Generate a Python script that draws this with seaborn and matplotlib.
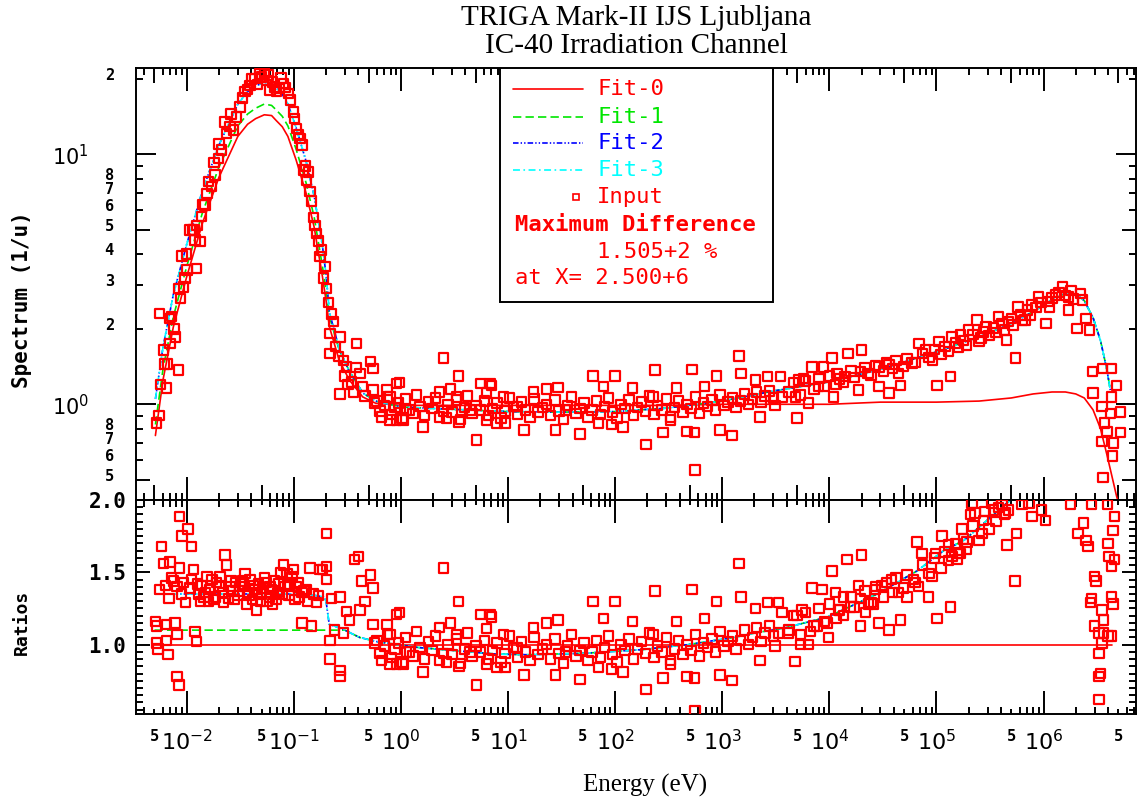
import numpy as np
import matplotlib
matplotlib.use("Agg")
import matplotlib.pyplot as plt
import matplotlib.ticker as mticker
import matplotlib.transforms as mtrans
from matplotlib.patches import Rectangle
import seaborn as sns

# ---------------- fitted curves, upper panel (1/u) ----------------
e_fit = [5.1e-3, 6e-3, 7.5e-3, 1e-2, 1.4e-2, 2e-2, 3e-2, 3.7e-2, 4.4e-2, 5.3e-2,
         6.2e-2, 6.8e-2, 7.8e-2, 8.8e-2, 0.105, 0.13, 0.155, 0.185, 0.2, 0.215,
         0.265, 0.33, 0.44, 0.58, 1, 3, 10, 30, 100, 300,
         1e3, 3e3, 1e4, 3e4, 1e5, 2.5e5, 5e5, 8e5, 1.2e6, 1.6e6,
         2.0e6, 2.4e6, 2.9e6, 3.4e6, 3.9e6, 4.2e6]
e_fit0 = e_fit + [4.8e6, 5.4e6]
s_fit0 = [0.75, 1.25, 2.04, 3.24, 5.3, 8.1, 11.8, 13.2, 13.9, 14.4,
          14.3, 13.7, 12.9, 11.8, 9.5, 7.0, 5.1, 3.24, 2.6, 2.04,
          1.5, 1.25, 1.07, 1.01, 0.99, 0.99, 0.99, 0.99, 0.99, 0.99,
          1.0, 1.0, 1.0, 1.02, 1.02, 1.03, 1.06, 1.1, 1.12, 1.12,
          1.1, 1.06, 0.95, 0.8, 0.63, 0.55, 0.43, 0.36]
s_fit1 = [0.83, 1.38, 2.24, 3.56, 5.83, 8.9, 13.0, 14.5, 15.3, 15.9,
          15.7, 15.1, 14.2, 13.0, 10.5, 7.7, 5.6, 3.56, 2.86, 2.24,
          1.65, 1.36, 1.11, 1.03, 0.975, 0.955, 0.935, 0.93, 0.935, 0.965,
          1.03, 1.13, 1.23, 1.38, 1.62, 1.86, 2.1, 2.35, 2.62, 2.78,
          2.76, 2.6, 2.22, 1.8, 1.38, 1.14]
s_fit2 = [1.05, 1.69, 2.75, 4.37, 7.15, 10.9, 15.9, 17.8, 18.8, 19.4,
          19.3, 18.5, 17.4, 15.9, 12.8, 9.4, 6.8, 4.3, 3.3, 2.33,
          1.67, 1.35, 1.11, 1.03, 0.975, 0.955, 0.935, 0.93, 0.935, 0.965,
          1.03, 1.13, 1.23, 1.38, 1.62, 1.86, 2.1, 2.35, 2.62, 2.78,
          2.76, 2.6, 2.22, 1.8, 1.38, 1.14]
s_fit3 = [1.05, 1.69, 2.75, 4.37, 7.15, 10.9, 15.9, 17.8, 18.8, 19.4,
          19.3, 18.5, 17.4, 15.9, 12.8, 9.4, 6.8, 4.3, 3.3, 2.33,
          1.67, 1.35, 1.11, 1.03, 0.975, 0.955, 0.935, 0.93, 0.935, 0.965,
          1.03, 1.13, 1.23, 1.38, 1.62, 1.86, 2.1, 2.35, 2.62, 2.78,
          2.76, 2.6, 2.22, 1.8, 1.38, 1.14]

# ---------------- fitted curves, lower panel (ratios) ----------------
e_rfit0 = [5.0e-3, 4.4e6]
r_fit0 = [1.0, 1.0]
e_rfit1 = [5.0e-3, 0.30, 0.41, 0.6, 1.45, 7.6, 15, 52, 177, 480, 1300, 2000, 3800,
           9600, 2.8e4, 6.6e4, 1.17e5, 1.8e5, 3.2e5, 4.9e5, 6e5]
r_fit1 = [1.10, 1.10, 1.05, 1.02, 0.98, 0.935, 0.93, 0.94, 0.965, 1.0, 1.05, 1.08, 1.115,
          1.19, 1.35, 1.51, 1.65, 1.72, 1.88, 2.0, 2.1]
e_rfit = [5.0e-3, 0.13, 0.19, 0.2, 0.214, 0.28, 0.41, 0.6, 1.45, 7.6, 15, 52, 177, 480,
          1300, 2000, 3800, 9600, 2.8e4, 6.6e4, 1.17e5, 1.8e5, 3.2e5, 4.9e5, 6e5]
r_fit2 = [1.35, 1.35, 1.33, 1.30, 1.14, 1.11, 1.05, 1.02, 0.98, 0.935, 0.93, 0.94, 0.965, 1.0,
          1.05, 1.08, 1.115, 1.19, 1.35, 1.51, 1.65, 1.72, 1.88, 2.0, 2.1]
r_fit3 = [1.35, 1.35, 1.33, 1.30, 1.14, 1.11, 1.05, 1.02, 0.98, 0.935, 0.93, 0.94, 0.965, 1.0,
          1.05, 1.08, 1.115, 1.19, 1.35, 1.51, 1.65, 1.72, 1.88, 2.0, 2.1]

# ---------------- input points, thermal range ----------------
e_th = [5.25e-3, 5.5e-3, 5.6e-3, 7.2e-3, 6.9e-3, 6.05e-3, 6.6e-3, 6.5e-3, 8.35e-3, 7.9e-3,
        8.5e-3, 9.3e-3, 9.0e-3, 1.01e-2, 1.24e-2, 1.07e-2, 1.13e-2, 1.17e-2, 1.19e-2, 1.33e-2,
        1.38e-2, 1.48e-2, 1.54e-2, 1.71e-2, 1.84e-2, 1.97e-2, 2.12e-2, 2.36e-2, 2.28e-2, 2.54e-2,
        2.72e-2, 2.93e-2, 3.15e-2, 3.5e-2, 3.9e-2, 4.35e-2, 5.0e-2, 5.6e-2, 6.0e-2, 6.9e-2,
        8.0e-2, 8.9e-2, 9.9e-2, 0.106, 0.114, 0.119, 0.123, 0.137, 0.142, 0.152,
        0.163, 0.182, 0.195, 0.203, 0.234, 0.218, 0.27, 0.386, 0.218, 0.29,
        0.31, 0.415, 0.345, 0.27,
        4.0e-2, 4.6e-2, 4.8e-2, 5.3e-2, 5.8e-2, 6.3e-2, 6.6e-2, 7.3e-2, 7.6e-2, 8.4e-2,
        9.3e-2, 3.3e-2, 3.7e-2, 2.6e-2, 2.0e-2, 1.8e-2, 1.6e-2, 1.25e-2, 1.42e-2, 1.0e-2,
        9.6e-3, 8.8e-3, 7.6e-3, 7.0e-3, 6.2e-3, 5.7e-3, 0.102, 0.11, 0.128, 0.132,
        0.147, 0.158, 0.17, 0.176, 0.19, 0.21, 0.225, 0.245, 0.26, 0.3,
        0.32, 0.36, 0.38, 0.44, 0.46]
s_th = [0.84, 0.90, 2.31, 2.24, 2.2, 1.65, 1.45, 1.16, 1.37, 1.86,
        2.91, 2.95, 3.92, 3.44, 3.5, 4.98, 4.98, 4.98, 4.54, 4.47,
        5.63, 6.27, 6.98, 7.43, 8.26, 9.64, 10.4, 12.1, 13.5, 12.9,
        12.5, 14.1, 15.5, 17.8, 18.9, 20.1, 20.4, 19.8, 18.1, 17.8,
        19.2, 17.5, 14.8, 12.7, 11.6, 10.9, 8.66, 8.5, 7.1, 5.6,
        4.83, 4.14, 3.55, 2.91, 2.14, 1.92, 1.86, 1.75, 1.6, 1.5,
        1.41, 1.33, 1.23, 1.10,
        20.0, 19.0, 21.0, 21.2, 20.8, 19.5, 18.6, 18.3, 20.2, 18.5,
        16.5, 16.8, 18.2, 14.5, 11.0, 9.3, 7.8, 5.2, 6.3, 4.0,
        3.2, 2.65, 2.0, 1.75, 1.45, 1.2, 13.9, 12.0, 9.0, 7.9,
        6.5, 5.2, 4.5, 3.9, 3.2, 2.55, 2.3, 1.7, 1.55, 1.3,
        1.2, 1.12, 1.4, 1.18, 1.08]
e_thr = [5.1e-3, 5.2e-3, 5.2e-3, 5.4e-3, 5.8e-3, 6.05e-3, 6.3e-3, 6.5e-3, 6.5e-3, 6.7e-3,
         7.0e-3, 7.2e-3, 7.8e-3, 8.1e-3, 8.1e-3, 8.1e-3, 8.5e-3, 8.6e-3, 8.6e-3, 9.0e-3,
         9.3e-3, 1.03e-2, 1.11e-2, 1.11e-2, 1.15e-2, 1.2e-2, 1.24e-2, 1.3e-2, 1.38e-2, 1.45e-2,
         1.54e-2, 1.6e-2, 1.65e-2, 1.77e-2, 1.9e-2, 2.05e-2, 2.15e-2, 2.28e-2, 2.36e-2, 2.45e-2,
         2.54e-2, 2.7e-2, 2.85e-2, 3.0e-2, 3.15e-2, 3.3e-2, 3.5e-2, 3.7e-2, 3.9e-2, 4.1e-2,
         4.35e-2, 4.5e-2, 4.7e-2, 5.0e-2, 5.3e-2, 5.6e-2, 6.0e-2, 6.3e-2, 6.6e-2, 7.0e-2,
         7.5e-2, 8.0e-2, 8.6e-2, 9.2e-2, 9.9e-2, 0.106, 0.112, 0.119, 0.119, 0.13,
         0.142, 0.146, 0.152, 0.163, 0.17, 0.175, 0.185, 0.203, 0.203, 0.203,
         0.218, 0.218, 0.226, 0.24, 0.27, 0.27, 0.27, 0.29, 0.31, 0.33,
         0.37, 0.40, 0.415, 0.43, 0.46,
         5.6e-3, 6.8e-3, 7.5e-3, 8.9e-3, 9.7e-3, 1.07e-2, 1.26e-2, 1.34e-2, 1.5e-2, 1.72e-2,
         1.85e-2, 2.0e-2, 2.2e-2, 2.6e-2, 2.8e-2, 3.1e-2, 3.4e-2, 3.6e-2, 3.8e-2, 4.2e-2,
         4.6e-2, 4.9e-2, 5.2e-2, 5.5e-2, 5.9e-2, 6.2e-2, 6.8e-2, 7.2e-2, 7.8e-2, 8.3e-2,
         9.0e-2, 9.6e-2, 0.103, 0.109, 0.125, 0.135]
r_thr = [1.16, 1.13, 1.01, 0.97, 1.68, 1.56, 1.41, 1.14, 1.03, 0.93,
         1.57, 1.46, 1.15, 1.40, 1.07, 0.78, 0.72, 1.885, 1.53, 1.75,
         1.43, 1.80, 1.68, 1.45, 1.52, 1.09, 1.02, 1.35, 1.41, 1.33,
         1.47, 1.30, 1.38, 1.31, 1.43, 1.47, 1.36, 1.62, 1.55, 1.32,
         1.40, 1.37, 1.43, 1.34, 1.40, 1.44, 1.49, 1.36, 1.45, 1.31,
         1.38, 1.24, 1.42, 1.35, 1.46, 1.30, 1.40, 1.28, 1.44, 1.36,
         1.50, 1.55, 1.49, 1.42, 1.52, 1.40, 1.33, 1.36, 1.15, 1.38,
         1.53, 1.13, 1.35, 1.29, 1.34, 1.52, 1.52, 1.54, 1.45, 1.77,
         1.03, 0.90, 1.32, 1.10, 1.33, 0.82, 0.78, 1.08, 1.23, 1.17,
         1.59, 1.61, 1.24, 1.44, 1.30,
         1.38, 1.32, 1.44, 1.35, 1.29, 1.39, 1.42, 1.30, 1.36, 1.45,
         1.33, 1.40, 1.29, 1.44, 1.31, 1.37, 1.42, 1.28, 1.34, 1.41,
         1.36, 1.30, 1.39, 1.43, 1.33, 1.38, 1.31, 1.42, 1.35, 1.40,
         1.34, 1.47, 1.31, 1.43, 1.37, 1.30]

# ---------------- input points, epithermal range ----------------
# Fit-0 sits at 1.00 here, so the ratio panel reads the same values
e_epi = [0.52, 0.55, 0.55, 0.57, 0.66, 0.74, 0.79, 0.79, 0.91, 0.91,
         0.97, 1.05, 1.13, 1.6, 2.3, 2.49, 2.65, 2.9, 3.3, 3.45,
         3.5, 4.4, 5.1, 5.5, 6.3, 6.3, 6.8, 7.0, 7.9, 9.1,
         9.4, 12.1, 14.1, 17.2, 23, 27.7, 29.4, 34.4, 47, 62,
         70, 78, 93, 100, 118, 145, 195, 225, 235, 280,
         330, 375, 470, 520, 550, 557, 680, 880, 950, 1230,
         1430, 1500, 2050, 2260, 2650, 3100,
         0.6, 0.64, 0.7, 0.75, 0.82, 0.88, 0.95, 1.02, 1.1, 1.2,
         1.3, 1.4, 1.5, 1.65, 1.8, 1.95, 2.1, 2.3, 2.5, 2.75,
         3.0, 3.3, 3.6, 3.9, 4.2, 4.6, 5.0, 5.5, 6.0, 6.6,
         7.2, 7.9, 8.6, 9.4, 10.3, 11.2, 12.3, 13.4, 14.6, 16,
         17.5, 19, 21, 23, 25, 27.5, 30, 33, 36, 39,
         43, 47, 51, 56, 61, 67, 73, 80, 87, 95,
         104, 113, 124, 135, 148, 161, 176, 192, 210, 230,
         250, 275, 300, 330, 360, 390, 430, 470, 510, 560,
         610, 670, 730, 800, 870, 950, 1040, 1130, 1240, 1350,
         1480, 1610, 1760, 1920, 2100, 2300, 2500, 2750, 3000]
s_epi = [1.48, 1.39, 1.14, 1.01, 0.89, 1.14, 1.07, 0.865, 1.21, 0.865,
         1.22, 0.865, 0.95, 0.81, 1.12, 1.53, 0.88, 1.15, 1.07, 1.30,
         0.85, 0.95, 0.72, 1.21, 1.11, 0.865, 1.21, 1.19, 0.84, 1.07,
         0.84, 0.98, 0.79, 1.12, 1.15, 0.79, 1.17, 0.95, 0.76, 1.30,
         0.84, 1.18, 0.83, 1.30, 0.81, 1.16, 0.69, 1.07, 1.37, 0.77,
         0.865, 1.16, 0.78, 1.38, 0.77, 0.545, 1.18, 1.30, 0.79, 0.75,
         1.56, 1.33, 1.25, 0.89, 1.29, 0.99,
         1.03, 0.94, 0.99, 1.07, 0.91, 0.97, 1.01, 0.88, 1.05, 0.95,
         0.92, 1.09, 0.98, 0.90, 1.02, 0.96, 1.06, 0.89, 0.94, 1.00,
         0.93, 1.04, 0.87, 0.97, 1.08, 0.92, 0.99, 0.95, 1.03, 0.90,
         0.96, 1.01, 0.88, 0.94, 1.06, 0.98, 0.91, 1.02, 0.95, 0.89,
         1.05, 0.93, 0.97, 1.00, 0.90, 1.04, 0.94, 0.87, 0.99, 1.07,
         0.92, 0.96, 1.01, 0.89, 0.95, 1.03, 0.91, 0.98, 1.06, 0.93,
         0.88, 1.00, 0.96, 1.04, 0.90, 0.97, 1.02, 0.94, 1.08, 0.91,
         0.99, 0.95, 1.05, 0.89, 0.97, 1.03, 0.93, 1.00, 0.96, 1.07,
         0.92, 1.01, 0.98, 1.04, 0.95, 1.09, 0.99, 1.02, 1.06, 0.97,
         1.03, 1.10, 1.00, 1.05, 1.12, 1.02, 1.08, 1.13, 1.06]

# ---------------- input points, fast range ----------------
e_fast = [3490, 3600, 4820, 5000, 5200, 5770, 6400, 6900, 8850, 7950,
          1.06e4, 1.1e4, 1.18e4, 1.4e4, 1.5e4, 2.0e4, 1.87e4, 2.3e4, 2.9e4, 2.9e4,
          3.6e4, 3.6e4, 4.4e4, 4.6e4, 5.9e4, 6.9e4, 7.9e4, 9.2e4, 1.01e5, 1.06e5,
          1.35e5, 1.4e5, 1.67e5, 2.0e5, 2.4e5, 2.6e5, 2.9e5, 3.8e5, 4.5e5, 4.7e5,
          5.5e5, 5.8e5, 6.7e5, 7.8e5, 9.0e5, 1.05e6, 1.13e6, 1.3e6, 1.5e6, 1.72e6,
          1.72e6, 2.2e6, 2.3e6, 2.05e6, 2.5e6, 2.7e6, 2.85e6, 3.55e6, 4.3e6, 4.8e6,
          2.9e6, 4.3e6, 3.5e6, 4.2e6, 5.2e6, 3.7e6, 3.9e6, 5.2e6, 3.5e6, 4.5e6,
          4.4e6, 3.6e6,
          4.2e3, 4.6e3, 5.4e3, 6.0e3, 7.2e3, 8.0e3, 9.0e3, 1.0e4, 1.15e4, 1.25e4,
          1.35e4, 1.6e4, 1.7e4, 1.95e4, 2.15e4, 2.45e4, 2.7e4, 3.2e4, 3.4e4, 3.9e4,
          4.2e4, 4.9e4, 5.3e4, 6.3e4, 7.4e4, 8.5e4, 9.6e4, 1.1e5, 1.2e5, 1.3e5,
          1.5e5, 1.6e5, 1.8e5, 1.9e5, 2.2e5, 2.5e5, 2.75e5, 3.1e5, 3.4e5, 3.6e5,
          4.1e5, 4.3e5, 5.0e5, 5.2e5, 6.1e5, 6.4e5, 7.1e5, 7.5e5, 8.5e5, 9.5e5,
          1.1e6, 1.2e6, 1.4e6, 1.6e6, 1.8e6, 1.9e6]
s_fast = [1.29, 1.07, 1.07, 0.88, 1.25, 1.27, 1.01, 1.41, 1.41, 1.18,
          1.53, 1.07, 1.33, 1.29, 1.60, 1.65, 1.14, 1.33, 1.41, 1.18,
          1.11, 1.44, 1.33, 1.19, 1.46, 1.75, 1.65, 1.50, 1.19, 1.78,
          1.29, 1.86, 1.89, 1.98, 2.17, 1.84, 2.04, 2.24, 1.81, 2.14,
          1.53, 2.45, 2.17, 2.5, 2.69, 2.11, 2.45, 2.74, 2.95, 2.69,
          2.38, 2.78, 2.61, 2.01, 2.21, 1.98, 1.35, 1.39, 1.39, 1.19,
          1.11, 1.07, 0.98, 0.92, 0.93, 0.84, 0.78, 0.77, 0.71, 0.70,
          0.62, 0.51,
          1.12, 1.22, 1.09, 1.24, 1.15, 1.27, 1.18, 1.30, 1.20, 1.26,
          1.22, 1.36, 1.28, 1.35, 1.40, 1.31, 1.43, 1.36, 1.46, 1.39,
          1.50, 1.42, 1.52, 1.47, 1.60, 1.54, 1.66, 1.58, 1.70, 1.63,
          1.76, 1.69, 1.80, 1.72, 1.90, 1.79, 1.95, 1.88, 2.02, 1.94,
          2.10, 1.98, 2.20, 2.08, 2.28, 2.16, 2.38, 2.26, 2.44, 2.55,
          2.58, 2.66, 2.80, 2.72, 2.86, 2.64]
e_fastr = [3360, 3600, 3360, 4170, 4800, 5000, 5550, 6650, 5360, 6400,
           6900, 8530, 7660, 9500, 9850, 1.06e4, 1.14e4, 1.36e4, 1.22e4, 1.46e4,
           2.0e4, 1.88e4, 1.57e4, 1.95e4, 2.33e4, 2.17e4, 2.69e4, 2.6e4, 2.9e4, 3.6e4,
           3.1e4, 3.8e4, 4.4e4, 4.6e4, 5.3e4, 6.1e4, 6.8e4, 8.4e4, 9.1e4, 1.01e5,
           1.35e5, 6.6e4, 7.3e4, 9.8e4, 1.13e5, 1.3e5, 1.4e5, 1.67e5, 1.55e5, 1.73e5,
           2.07e5, 1.93e5, 2.15e5, 2.3e5, 2.66e5, 2.85e5, 3.3e5, 3.8e5, 4.4e5, 4.7e5,
           4.55e5, 5.6e5, 5.4e5, 6.3e5, 7.3e5, 7.8e5, 9.6e5, 1.04e6, 1.79e6, 2.8e6,
           3.94e6, 2.1e6, 2.35e6, 2.5e6, 2.6e6, 3.0e6, 3.1e6, 2.8e6, 2.76e6, 3.5e6,
           3.65e6, 3.0e6, 3.3e6, 3.65e6, 4.0e6, 4.3e6, 3.5e6, 3.3e6, 3.4e6, 3.3e6,
           3.3e6, 4.3e6, 4.45e6, 4.0e6, 4.1e6, 4.6e6, 4.3e6, 4.45e6, 4.6e6,
           4.2e3, 4.6e3, 5.4e3, 6.0e3, 7.2e3, 8.0e3, 9.0e3, 1.0e4, 1.15e4, 1.25e4,
           1.35e4, 1.6e4, 1.7e4, 1.95e4, 2.15e4, 2.45e4, 2.7e4, 3.2e4, 3.4e4, 3.9e4,
           4.2e4, 4.9e4, 5.3e4, 6.3e4, 7.4e4, 8.5e4, 9.6e4, 1.1e5, 1.2e5, 1.3e5,
           1.5e5, 1.6e5, 1.8e5, 1.9e5, 2.2e5, 2.5e5, 2.75e5, 3.1e5, 3.4e5, 3.6e5,
           4.1e5, 4.3e5]
r_fastr = [1.29, 1.22, 1.08, 1.08, 0.885, 1.20, 1.24, 1.09, 1.0, 1.0,
           1.39, 1.38, 1.13, 1.15, 1.05, 1.51, 1.36, 1.33, 1.24, 1.59,
           1.62, 1.41, 1.26, 1.13, 1.28, 1.22, 1.38, 1.28, 1.15, 1.10,
           1.41, 1.45, 1.36, 1.17, 1.33, 1.45, 1.40, 1.33, 1.47, 1.18,
           1.26, 1.71, 1.63, 1.63, 1.75, 1.69, 1.61, 1.63, 1.59, 1.80,
           1.90, 1.71, 1.98, 1.91, 1.77, 1.92, 1.98, 1.95, 1.91, 1.93,
           1.69, 1.77, 1.44, 1.97, 1.98, 1.885, 1.93, 1.86, 1.97, 1.97,
           1.97, 1.77, 1.84, 1.72, 1.68, 1.47, 1.44, 1.32, 1.29, 1.24,
           1.17, 1.13, 1.08, 1.08, 1.06, 1.06, 1.01, 0.94, 0.80, 0.78,
           0.62, 1.33, 1.28, 1.70, 1.61, 1.59, 1.54, 1.79, 1.885,
           1.10, 1.20, 1.07, 1.22, 1.13, 1.25, 1.16, 1.28, 1.18, 1.24,
           1.20, 1.33, 1.26, 1.32, 1.37, 1.29, 1.40, 1.33, 1.43, 1.36,
           1.46, 1.39, 1.48, 1.43, 1.55, 1.49, 1.60, 1.53, 1.64, 1.58,
           1.70, 1.63, 1.73, 1.66, 1.82, 1.72, 1.86, 1.80, 1.93, 1.85,
           1.97, 1.90]

fit_names = ["Fit-0", "Fit-1", "Fit-2", "Fit-3"]
max_diff = "1.505+2 %"
max_at = "2.500+6"

RED, GREEN, BLUE, CYAN = "#ff0000", "#00e600", "#0000ff", "#00ffff"
line_styles = ["-", (0, (6, 3)), (0, (4, 1.5, 1, 1.5, 1, 1.5)), (0, (5, 2.5, 1.2, 2.5))]
colors = [RED, GREEN, BLUE, CYAN]

sns.set_style("ticks")
plt.rcParams.update({
    "font.family": ["DejaVu Sans Mono", "DejaVu Sans"],
    "mathtext.fontset": "dejavusans",
    "axes.edgecolor": "black",
    "axes.linewidth": 1.4,
    "xtick.color": "black",
    "ytick.color": "black",
    "text.color": "black",
    "lines.scale_dashes": False,
})

W, H = 1137, 798
fig = plt.figure(figsize=(W / 100, H / 100), dpi=100)
ax1 = fig.add_axes([136 / W, 1 - 500 / H, 1000 / W, 431.7 / H])
ax2 = fig.add_axes([136 / W, 1 - 714 / H, 1000 / W, 214 / H])
for ax in (ax1, ax2):
    ax.set_xscale("log")
ax1.set_yscale("log")

# curves
up_curves = [(e_fit0, s_fit0), (e_fit, s_fit1), (e_fit, s_fit2), (e_fit, s_fit3)]
lo_curves = [(e_rfit0, r_fit0), (e_rfit1, r_fit1), (e_rfit, r_fit2), (e_rfit, r_fit3)]
for i in range(4):
    for ax, (xx, yy) in ((ax1, up_curves[i]), (ax2, lo_curves[i])):
        sns.lineplot(x=xx, y=yy, ax=ax, color=colors[i], linestyle=line_styles[i],
                     linewidth=1.2, estimator=None, sort=False, zorder=2 + i * 0.1)

# input points
e_up = e_th + e_epi + e_fast
s_up = s_th + s_epi + s_fast
e_lo = e_thr + e_epi + e_fastr
r_lo = r_thr + s_epi + r_fastr
sq = dict(marker="s", s=46, facecolor="none", edgecolor=RED, color=RED,
          linewidth=1.6, legend=False, zorder=4)
sns.scatterplot(x=e_up, y=s_up, ax=ax1, **sq)
sns.scatterplot(x=e_lo, y=r_lo, ax=ax2, **sq)

for ax in (ax1, ax2):
    ax.set_xlim(3.36e-3, 7.3e6)
    ax.set_xlabel("")
    ax.set_ylabel("")
ax1.set_ylim(0.414, 22.1)
ax2.set_ylim(0.52, 2.0)

# x ticks: decades long, 5s medium, others short
decs = [10.0 ** k for k in range(-2, 7)]
fives = [5 * 10.0 ** k for k in range(-3, 7)]
xmaj = sorted(decs + fives)
xmin = [m * 10.0 ** k for k in range(-3, 7) for m in (2, 3, 4, 6, 7, 8, 9)]
for ax, lab in ((ax1, False), (ax2, True)):
    ax.xaxis.set_major_locator(mticker.FixedLocator(xmaj))
    ax.xaxis.set_minor_locator(mticker.FixedLocator(xmin))
    ax.xaxis.set_minor_formatter(mticker.NullFormatter())
    if lab:
        texts = ["5" if v in fives else "$10^{%d}$" % round(np.log10(v)) for v in xmaj]
        ax.xaxis.set_major_formatter(mticker.FixedFormatter(texts))
    else:
        ax.xaxis.set_major_formatter(mticker.NullFormatter())
    ax.tick_params(axis="x", which="both", direction="in", top=True, bottom=True,
                   width=1.4, color="black")
    ax.tick_params(axis="x", which="minor", length=5)
    ax.tick_params(axis="x", which="major", pad=11, labelsize=16)
    for v, t in zip(xmaj, ax.xaxis.get_major_ticks(len(xmaj))):
        big = v not in fives
        L = 16.5 if big else 10.5
        t.tick1line.set_markersize(L)
        t.tick2line.set_markersize(L)
        if lab and not big:
            t.label1.set_fontsize(11)
            t.label1.set_fontweight("bold")
            t.set_pad(11)

# upper y ticks
ymaj = [1.0, 10.0]
ymin = [0.5, 0.6, 0.7, 0.8, 0.9, 2, 3, 4, 5, 6, 7, 8, 9, 20]
ymin_lab = ["5", "6", "7", "8", "", "2", "3", "4", "5", "6", "7", "8", "", "2"]
ax1.yaxis.set_major_locator(mticker.FixedLocator(ymaj))
ax1.yaxis.set_major_formatter(mticker.FixedFormatter(["$10^{0}$", "$10^{1}$"]))
ax1.yaxis.set_minor_locator(mticker.FixedLocator(ymin))
ax1.yaxis.set_minor_formatter(mticker.FixedFormatter(ymin_lab))
ax1.tick_params(axis="y", which="both", direction="in", left=True, right=True,
                width=1.4, color="black")
ax1.tick_params(axis="y", which="major", length=14.4, pad=34, labelsize=15)
ax1.tick_params(axis="y", which="minor", length=5, pad=16, labelsize=11)
lift = mtrans.ScaledTranslation(0, 5 / 100, fig.dpi_scale_trans)
for v, t in zip(ymin, ax1.yaxis.get_minor_ticks(len(ymin))):
    if v in (0.5, 5):
        t.tick1line.set_markersize(10)
        t.tick2line.set_markersize(10)
    t.label1.set_fontweight("bold")
    t.label1.set_transform(t.label1.get_transform() + lift)

# lower y ticks
rmaj = [1.0, 1.5, 2.0]
rmin = [round(0.55 + 0.05 * i, 2) for i in range(29)]
rmin = [v for v in rmin if v not in rmaj]
ax2.yaxis.set_major_locator(mticker.FixedLocator(rmaj))
ax2.yaxis.set_major_formatter(mticker.FixedFormatter(["1.0", "1.5", "2.0"]))
ax2.yaxis.set_minor_locator(mticker.FixedLocator(rmin))
ax2.yaxis.set_minor_formatter(mticker.NullFormatter())
ax2.tick_params(axis="y", which="both", direction="in", left=True, right=True,
                width=1.4, color="black")
ax2.tick_params(axis="y", which="major", length=10, pad=7, labelsize=15)
ax2.tick_params(axis="y", which="minor", length=5)
for t in ax2.yaxis.get_major_ticks(len(rmaj)):
    t.label1.set_fontweight("bold")

# legend box
ta = ax1.transAxes
ax1.add_patch(Rectangle((0.364, 0.4594), 0.273, 0.5406, transform=ta, facecolor="white",
                        edgecolor="black", linewidth=1.4, zorder=6))
rows = [0.9514, 0.888, 0.8264, 0.7646, 0.7028, 0.6372, 0.5754, 0.5145]
for i in range(4):
    ax1.plot([0.377, 0.447], [rows[i], rows[i]], transform=ta, color=colors[i],
             linestyle=line_styles[i], linewidth=1.2, zorder=7)
    ax1.text(0.461, rows[i], fit_names[i], transform=ta, color=colors[i], fontsize=16,
             va="center", ha="left", zorder=7)
ax1.plot([0.440], [rows[4]], transform=ta, marker="s", markersize=4.5, markerfacecolor="none",
         markeredgecolor=RED, markeredgewidth=1.2, linestyle="none", zorder=7)
ax1.text(0.461, rows[4], "Input", transform=ta, color=RED, fontsize=16, va="center", zorder=7)
ax1.text(0.379, rows[5], "Maximum Difference", transform=ta, color=RED, fontsize=16,
         fontweight="bold", va="center", zorder=7)
ax1.text(0.461, rows[6], max_diff, transform=ta, color=RED, fontsize=16, va="center", zorder=7)
ax1.text(0.379, rows[7], "at X= " + max_at, transform=ta, color=RED, fontsize=16,
         va="center", zorder=7)

# titles and axis names
cx = 636 / W
fig.text(cx, 1 - 18 / H, "TRIGA Mark-II IJS Ljubljana", ha="center", va="center",
         family="Liberation Serif", fontsize=21)
fig.text(cx, 1 - 46 / H, "IC-40 Irradiation Channel", ha="center", va="center",
         family="Liberation Serif", fontsize=21)
fig.text(645 / W, 1 - 785 / H, "Energy (eV)", ha="center", va="center",
         family="Liberation Serif", fontsize=18)
fig.text(22 / W, 1 - 300 / H, "Spectrum (1/u)", rotation=90, ha="center", va="center",
         fontsize=15, fontweight="bold")
fig.text(22 / W, 1 - 622 / H, "Ratios", rotation=90, ha="center", va="center",
         fontsize=13, fontweight="bold")

fig.savefig("out.png", dpi=100)
